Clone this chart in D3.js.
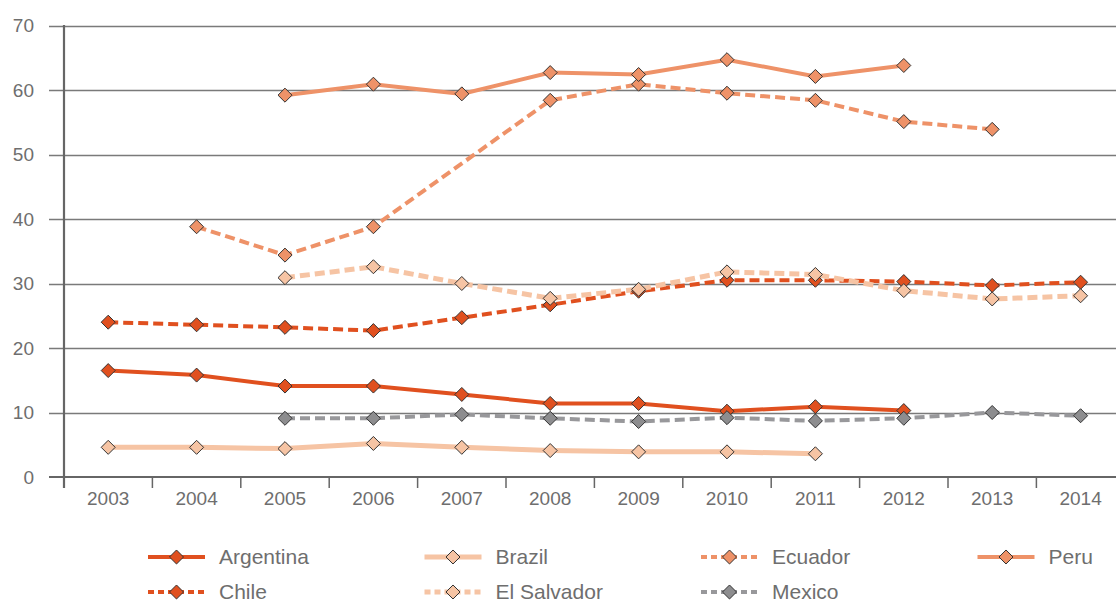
<!DOCTYPE html>
<html>
<head>
<meta charset="utf-8">
<script src="https://d3js.org/d3.v7.min.js"></script>
<style>
  body { margin:0; background:#fff; }
  text { font-family: "Liberation Sans", Arial, sans-serif; fill:#6e6e6e; }
  .tick-label { font-size:19px; }
  .legend-label { font-size:21px; }
</style>
</head>
<body>
<script>
var years = ["2003","2004","2005","2006","2007","2008","2009","2010","2011","2012","2013","2014"];
var yTicks = [0,10,20,30,40,50,60,70];

var argentina  = [16.5,15.8,14.1,14.1,12.8,11.4,11.4,10.2,10.9,10.3,null,null];
var chile      = [24.0,23.6,23.2,22.7,24.7,26.7,28.8,30.5,30.5,30.3,29.7,30.2];
var brazil     = [4.6,4.6,4.4,5.2,4.6,4.1,3.9,3.9,3.6,null,null,null];
var elSalvador = [null,null,30.9,32.6,30.0,27.7,29.1,31.8,31.4,28.9,27.6,28.1];
var ecuador    = [null,38.8,34.4,38.8,null,58.4,60.9,59.5,58.4,55.1,53.9,null];
var mexico     = [null,null,9.1,9.1,9.7,9.1,8.6,9.2,8.7,9.1,10.0,9.5];
var peru       = [null,null,59.2,60.9,59.4,62.7,62.4,64.7,62.1,63.8,null,null];

var series = [
  {name:"Argentina",   values:argentina,  color:"#e0501f", marker:"#e0501f", dash:null, width:4},
  {name:"Chile",       values:chile,      color:"#e0501f", marker:"#e0501f", dash:"10,5", width:4},
  {name:"Brazil",      values:brazil,     color:"#f6c4a4", marker:"#f6c4a4", dash:null, width:5},
  {name:"El Salvador", values:elSalvador, color:"#f6c4a4", marker:"#f6c4a4", dash:"10,5", width:5},
  {name:"Ecuador",     values:ecuador,    color:"#ee9268", marker:"#ee9268", dash:"10,5", width:4},
  {name:"Mexico",      values:mexico,     color:"#98989b", marker:"#8d8d8f", dash:"10,5", width:4},
  {name:"Peru",        values:peru,       color:"#ee9268", marker:"#ee9268", dash:null, width:4}
];

var W = 1116, H = 600;
var mLeft = 64, mTop = 25, mBottom = 477;

var svg = d3.select("body").append("svg").attr("width", W).attr("height", H);

var x = d3.scaleBand().domain(years).range([mLeft, mLeft + 12*88.4]);
var y = d3.scaleLinear().domain([0,70]).range([mBottom, mTop+0.5]);

// gridlines
svg.append("g").selectAll("line").data(yTicks.filter(function(d){return d>0;}))
  .enter().append("line")
  .attr("x1", 49).attr("x2", W)
  .attr("y1", function(d){ return Math.round(y(d))+0.5; })
  .attr("y2", function(d){ return Math.round(y(d))+0.5; })
  .attr("stroke", "#7a7a7a").attr("stroke-width", 1.3);

// y labels
svg.append("g").selectAll("text").data(yTicks).enter().append("text")
  .attr("class","tick-label")
  .attr("x", 34).attr("y", function(d){ return y(d); })
  .attr("dy", "0.35em").attr("text-anchor","end")
  .text(function(d){ return d; });

// x axis
var xAxis = svg.append("g").attr("transform","translate(0,"+mBottom+")");
xAxis.append("line").attr("x1",49).attr("x2",W).attr("stroke","#666").attr("stroke-width",2.2);
xAxis.selectAll(".tk").data(years.slice(1)).enter().append("line")
  .attr("x1", function(d){ return x(d); }).attr("x2", function(d){ return x(d); })
  .attr("y1", 0).attr("y2", 11).attr("stroke","#666").attr("stroke-width",1.5);
xAxis.selectAll("text").data(years).enter().append("text")
  .attr("class","tick-label")
  .attr("x", function(d){ return x(d) + x.bandwidth()/2; })
  .attr("y", 28).attr("text-anchor","middle")
  .text(function(d){ return d; });

// y axis line
svg.append("line").attr("x1",mLeft).attr("x2",mLeft).attr("y1",mTop).attr("y2",mBottom+11)
  .attr("stroke","#666").attr("stroke-width",2.2);

var diamond = d3.symbol().type(d3.symbolDiamond2).size(125);
var line = d3.line()
  .x(function(d){ return x(d.year) + x.bandwidth()/2; })
  .y(function(d){ return y(d.v); });

var plot = svg.append("g");
series.forEach(function(s){
  var pts = years.map(function(yr,i){ return {year:yr, v:s.values[i]}; })
                 .filter(function(d){ return d.v != null; });
  plot.append("path").datum(pts)
    .attr("d", line).attr("fill","none")
    .attr("stroke", s.color).attr("stroke-width", s.width)
    .attr("stroke-dasharray", s.dash);
});
series.forEach(function(s){
  var pts = years.map(function(yr,i){ return {year:yr, v:s.values[i]}; })
                 .filter(function(d){ return d.v != null; });
  plot.append("g").selectAll("path").data(pts).enter().append("path")
    .attr("d", diamond)
    .attr("transform", function(d){ return "translate("+(x(d.year)+x.bandwidth()/2)+","+y(d.v)+")"; })
    .attr("fill", s.marker).attr("stroke","#333").attr("stroke-width",1);
});

// legend
var legendOrder = ["Argentina","Chile","Brazil","El Salvador","Ecuador","Mexico","Peru"];
var legend = svg.append("g");
legendOrder.forEach(function(n, i){
  var s = series.find(function(d){ return d.name === n; });
  var col = Math.floor(i/2), row = i%2;
  var gx = 148 + col*276.5, gy = 557 + row*35;
  var g = legend.append("g").attr("transform","translate("+gx+","+gy+")");
  g.append("line").attr("x1",0).attr("x2",57).attr("y1",0).attr("y2",0)
    .attr("stroke", s.color).attr("stroke-width", s.width)
    .attr("stroke-dasharray", s.dash ? "6,4" : null);
  g.append("path").attr("d", diamond).attr("transform","translate(28.5,0)")
    .attr("fill", s.marker).attr("stroke","#333").attr("stroke-width",1);
  g.append("text").attr("class","legend-label").attr("x",71).attr("dy","0.35em").text(n);
});
</script>
</body>
</html>
